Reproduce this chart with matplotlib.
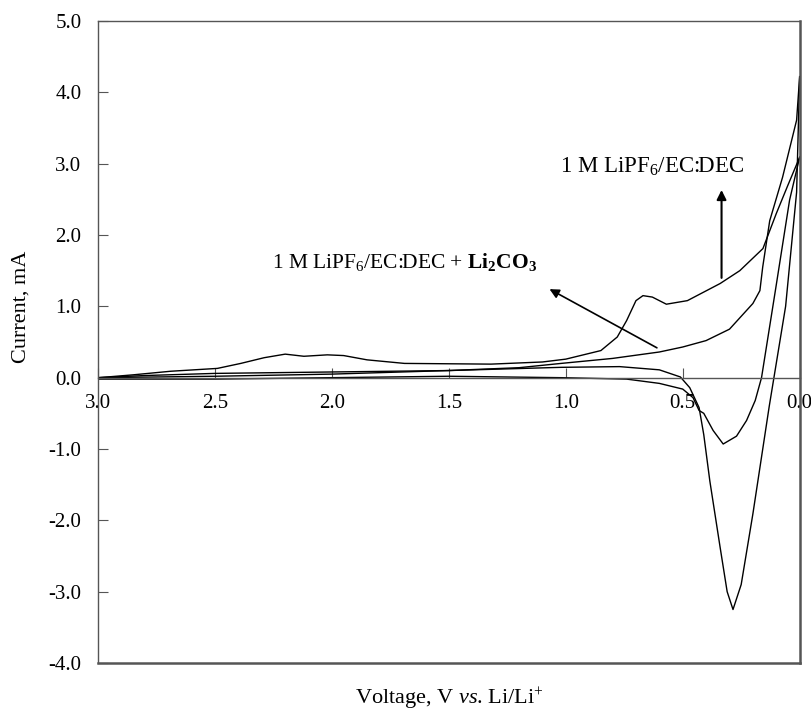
import matplotlib
matplotlib.use("Agg")
import matplotlib.pyplot as plt
from matplotlib.ticker import FormatStrFormatter

plt.rcParams['font.family'] = ['Liberation Serif', 'DejaVu Serif']
plt.rcParams['mathtext.fontset'] = 'custom'
plt.rcParams['mathtext.rm'] = 'Liberation Serif'
plt.rcParams['mathtext.it'] = 'Liberation Serif:italic'
plt.rcParams['mathtext.bf'] = 'Liberation Serif:bold'

# 1 M LiPF6/EC:DEC, sweep 3.0 -> 0.0 V
plain_fwd_v = [3.0, 2.96, 2.85, 2.69, 2.49, 2.39, 2.29, 2.2, 2.12, 2.02, 1.95, 1.85,
               1.69, 1.32, 1.1, 1.0, 0.85, 0.78, 0.74, 0.70, 0.67, 0.63, 0.57, 0.48,
               0.34, 0.256, 0.157, 0.1, 0.05, 0.0]
plain_fwd_i = [0.0, 0.01, 0.04, 0.09, 0.13, 0.2, 0.28, 0.33, 0.3, 0.32, 0.31, 0.25,
               0.2, 0.19, 0.22, 0.26, 0.38, 0.57, 0.8, 1.08, 1.15, 1.13, 1.03, 1.08,
               1.32, 1.5, 1.81, 2.3, 2.7, 3.09]
# return sweep 0.0 -> 3.0 V
plain_rev_v = [0.0, 0.043, 0.1, 0.163, 0.19, 0.227, 0.27, 0.327, 0.37, 0.41, 0.43,
               0.456, 0.5, 0.6, 0.74, 1.02, 1.5, 2.0, 2.5, 3.0]
plain_rev_i = [3.09, 2.49, 1.3, 0.0, -0.32, -0.6, -0.82, -0.93, -0.74, -0.5, -0.46,
               -0.28, -0.16, -0.08, -0.02, 0.0, 0.02, 0.0, -0.02, -0.02]

# 1 M LiPF6/EC:DEC + Li2CO3
li_fwd_v = [3.0, 2.8, 2.5, 2.0, 1.5, 1.2, 1.02, 0.8, 0.6, 0.5, 0.4, 0.3, 0.2, 0.17,
            0.158, 0.128, 0.073, 0.013, 0.0]
li_fwd_i = [0.0, 0.03, 0.06, 0.08, 0.1, 0.14, 0.2, 0.27, 0.36, 0.43, 0.52, 0.68, 1.04,
            1.22, 1.55, 2.2, 2.81, 3.61, 4.22]
li_rev_v = [0.0, 0.013, 0.06, 0.11, 0.13, 0.2, 0.25, 0.285, 0.31, 0.34, 0.384, 0.41,
            0.43, 0.47, 0.51, 0.6, 0.77, 1.02, 1.5, 2.0, 2.5, 3.0]
li_rev_i = [4.22, 2.6, 1.0, 0.0, -0.4, -1.91, -2.9, -3.25, -3.0, -2.38, -1.45, -0.8,
            -0.42, -0.14, 0.01, 0.11, 0.155, 0.145, 0.1, 0.05, 0.02, 0.0]

fig = plt.figure(figsize=(8.11, 7.12), dpi=100)
ax = fig.add_axes([0.121, 0.0688, 0.865, 0.9017])

ax.plot(plain_fwd_v, plain_fwd_i, color='black', lw=1.0)
ax.plot(plain_rev_v, plain_rev_i, color='black', lw=1.0)
ax.plot(li_fwd_v, li_fwd_i, color='black', lw=1.0)
ax.plot(li_rev_v, li_rev_i, color='black', lw=1.0)

ax.set_xlim(3.0, 0.0)
ax.set_ylim(-4.0, 5.0)
ax.set_xticks([3.0, 2.5, 2.0, 1.5, 1.0, 0.5, 0.0])
ax.set_yticks([-4, -3, -2, -1, 0, 1, 2, 3, 4, 5])
ax.xaxis.set_major_formatter(FormatStrFormatter('%.1f'))
ax.yaxis.set_major_formatter(FormatStrFormatter('%.1f'))

frame = '#555555'
ax.spines['bottom'].set_position(('data', 0))
for s in ['bottom', 'left', 'top']:
    ax.spines[s].set_color(frame)
    ax.spines[s].set_linewidth(1.0)
ax.spines['right'].set_color(frame)
ax.spines['right'].set_linewidth(1.8)
ax.axhline(-4.0, color=frame, lw=1.8, clip_on=False)

ax.tick_params(axis='x', direction='in', length=7, pad=12, labelsize=15, color=frame)
ax.tick_params(axis='y', direction='in', length=7, pad=12, labelsize=15, color=frame)

ax.set_xlabel(r'Voltage, V $\it{vs}$. Li/Li$^{+}$', fontsize=16)
ax.xaxis.set_label_coords(0.5, -0.036)
ax.set_ylabel('Current, mA', fontsize=16)
ax.yaxis.set_label_coords(-0.097, 0.555)

ax.text(0.63, 2.95, r'1 M LiPF$_6$/EC:DEC', fontsize=16.5, ha='center', va='center')
ax.annotate('', xy=(0.334, 2.67), xytext=(0.334, 1.36),
            arrowprops=dict(arrowstyle='-|>', color='black', lw=1.5, mutation_scale=14))

ax.text(1.69, 1.62, r'1 M LiPF$_6$/EC:DEC + $\mathbf{Li_2CO_3}$', fontsize=15.5,
        ha='center', va='center')
ax.annotate('', xy=(1.08, 1.26), xytext=(0.6, 0.40),
            arrowprops=dict(arrowstyle='-|>', color='black', lw=1.2, mutation_scale=14))

fig.savefig('out.png', dpi=100)
